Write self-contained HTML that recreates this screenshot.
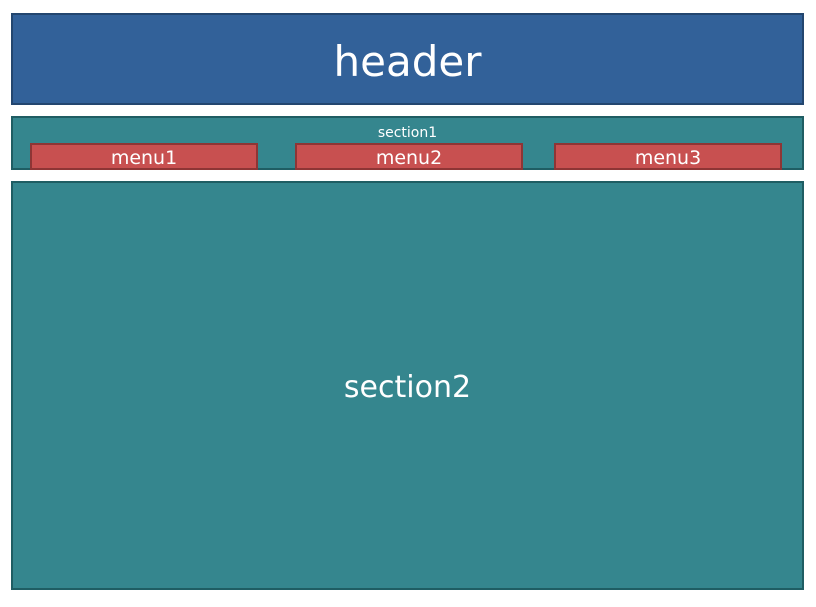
<!DOCTYPE html>
<html><head><style>
body{margin:0;width:816px;height:607px;background:#fff;position:relative;font-family:"DejaVu Sans","Liberation Sans",sans-serif;color:#fff;overflow:hidden}
div{position:absolute;box-sizing:border-box;text-align:center}
.h{left:11px;top:13px;width:793px;height:92px;background:#326199;border:2px solid #23466f;font-size:42px;line-height:94px}
.s1{left:11px;top:116px;width:793px;height:54px;background:#35868e;border:2px solid #1f5d63;font-size:14px;line-height:30px}
.m{top:143px;width:228px;height:27px;background:#c85050;border:2px solid #8e3535;font-size:19px;line-height:26px}
.s2{left:11px;top:181px;width:793px;height:409px;background:#35868e;border:2px solid #1f5d63;font-size:30px;line-height:409px}
</style></head><body>
<div class="h">header</div>
<div class="s1">section1</div>
<div class="m" style="left:30px">menu1</div>
<div class="m" style="left:295px">menu2</div>
<div class="m" style="left:554px">menu3</div>
<div class="s2">section2</div>
</body></html>
